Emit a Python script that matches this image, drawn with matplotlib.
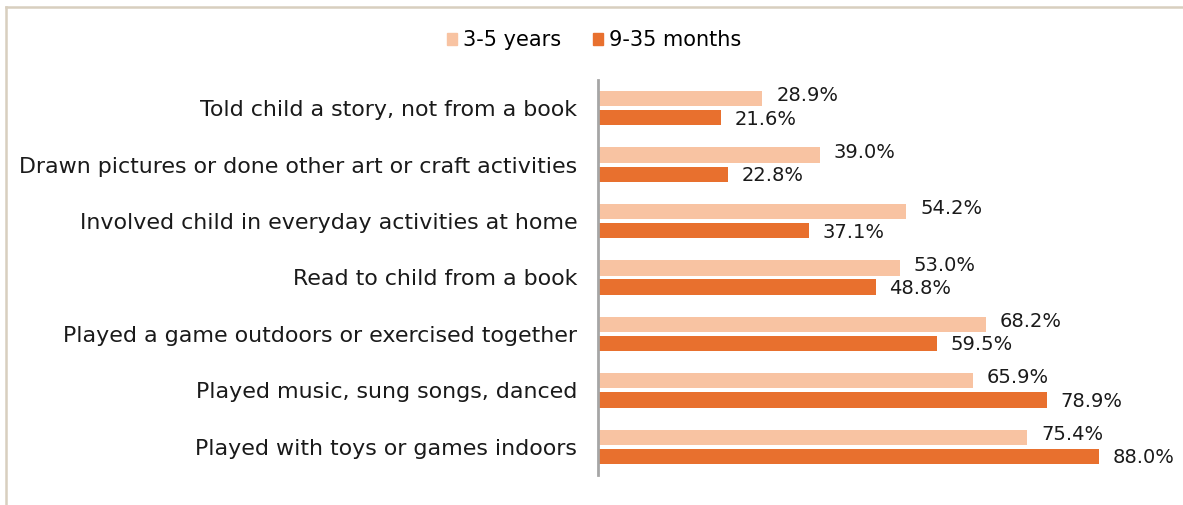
import matplotlib
matplotlib.use('Agg')
import matplotlib.pyplot as plt
from matplotlib.lines import Line2D
from matplotlib.patches import Patch
import numpy as np

categories = [
    'Told child a story, not from a book',
    'Drawn pictures or done other art or craft activities',
    'Involved child in everyday activities at home',
    'Read to child from a book',
    'Played a game outdoors or exercised together',
    'Played music, sung songs, danced',
    'Played with toys or games indoors',
]
years_3_5 = [28.9, 39.0, 54.2, 53.0, 68.2, 65.9, 75.4]
months_9_35 = [21.6, 22.8, 37.1, 48.8, 59.5, 78.9, 88.0]
series_names = ['3-5 years', '9-35 months']

light = '#f8c3a2'
dark = '#e8702e'
text_col = '#1a1a1a'

W, H = 1183, 505
fig = plt.figure(figsize=(W / 100, H / 100), dpi=100)

# frame lines (top and left)
fig.add_artist(Line2D([6 / W, 1], [1 - 6.5 / H] * 2, color='#d8cfbf', lw=1.8))
fig.add_artist(Line2D([6 / W] * 2, [0, 1 - 6.5 / H], color='#d8cfbf', lw=1.8))

ax = fig.add_axes([598 / W, 1 - 475 / H, (1180 - 598) / W, 395 / H])
y = np.arange(len(categories))
h = 0.27
off = 0.17
ax.barh(y - off, years_3_5, height=h, color=light, label=series_names[0])
ax.barh(y + off, months_9_35, height=h, color=dark, label=series_names[1])

for yi, v in zip(y, years_3_5):
    ax.annotate(f'{v:.1f}%', (v, yi - off), xytext=(10, 2), textcoords='offset points',
                va='center', ha='left', fontsize=14, color=text_col)
for yi, v in zip(y, months_9_35):
    ax.annotate(f'{v:.1f}%', (v, yi + off), xytext=(10, -1), textcoords='offset points',
                va='center', ha='left', fontsize=14, color=text_col)

ax.set_xlim(0, (1180 - 598) / 5.69)
ax.set_ylim(6.5, -0.5)
ax.set_yticks(y)
ax.set_yticklabels(categories, fontsize=15.9, color=text_col)
ax.tick_params(axis='y', length=0, pad=15)
ax.set_xticks([])
for s in ['top', 'right', 'bottom']:
    ax.spines[s].set_visible(False)
ax.spines['left'].set_color('#a6a6a6')
ax.spines['left'].set_linewidth(2)

handles = [Patch(color=light), Patch(color=dark)]
fig.legend(handles, series_names, loc='center', bbox_to_anchor=(594 / W, 1 - 40 / H),
           ncol=2, frameon=False, fontsize=15, handlelength=0.5, handleheight=0.5,
           handletextpad=0.3, columnspacing=1.5)

fig.savefig('out.png', dpi=100)
